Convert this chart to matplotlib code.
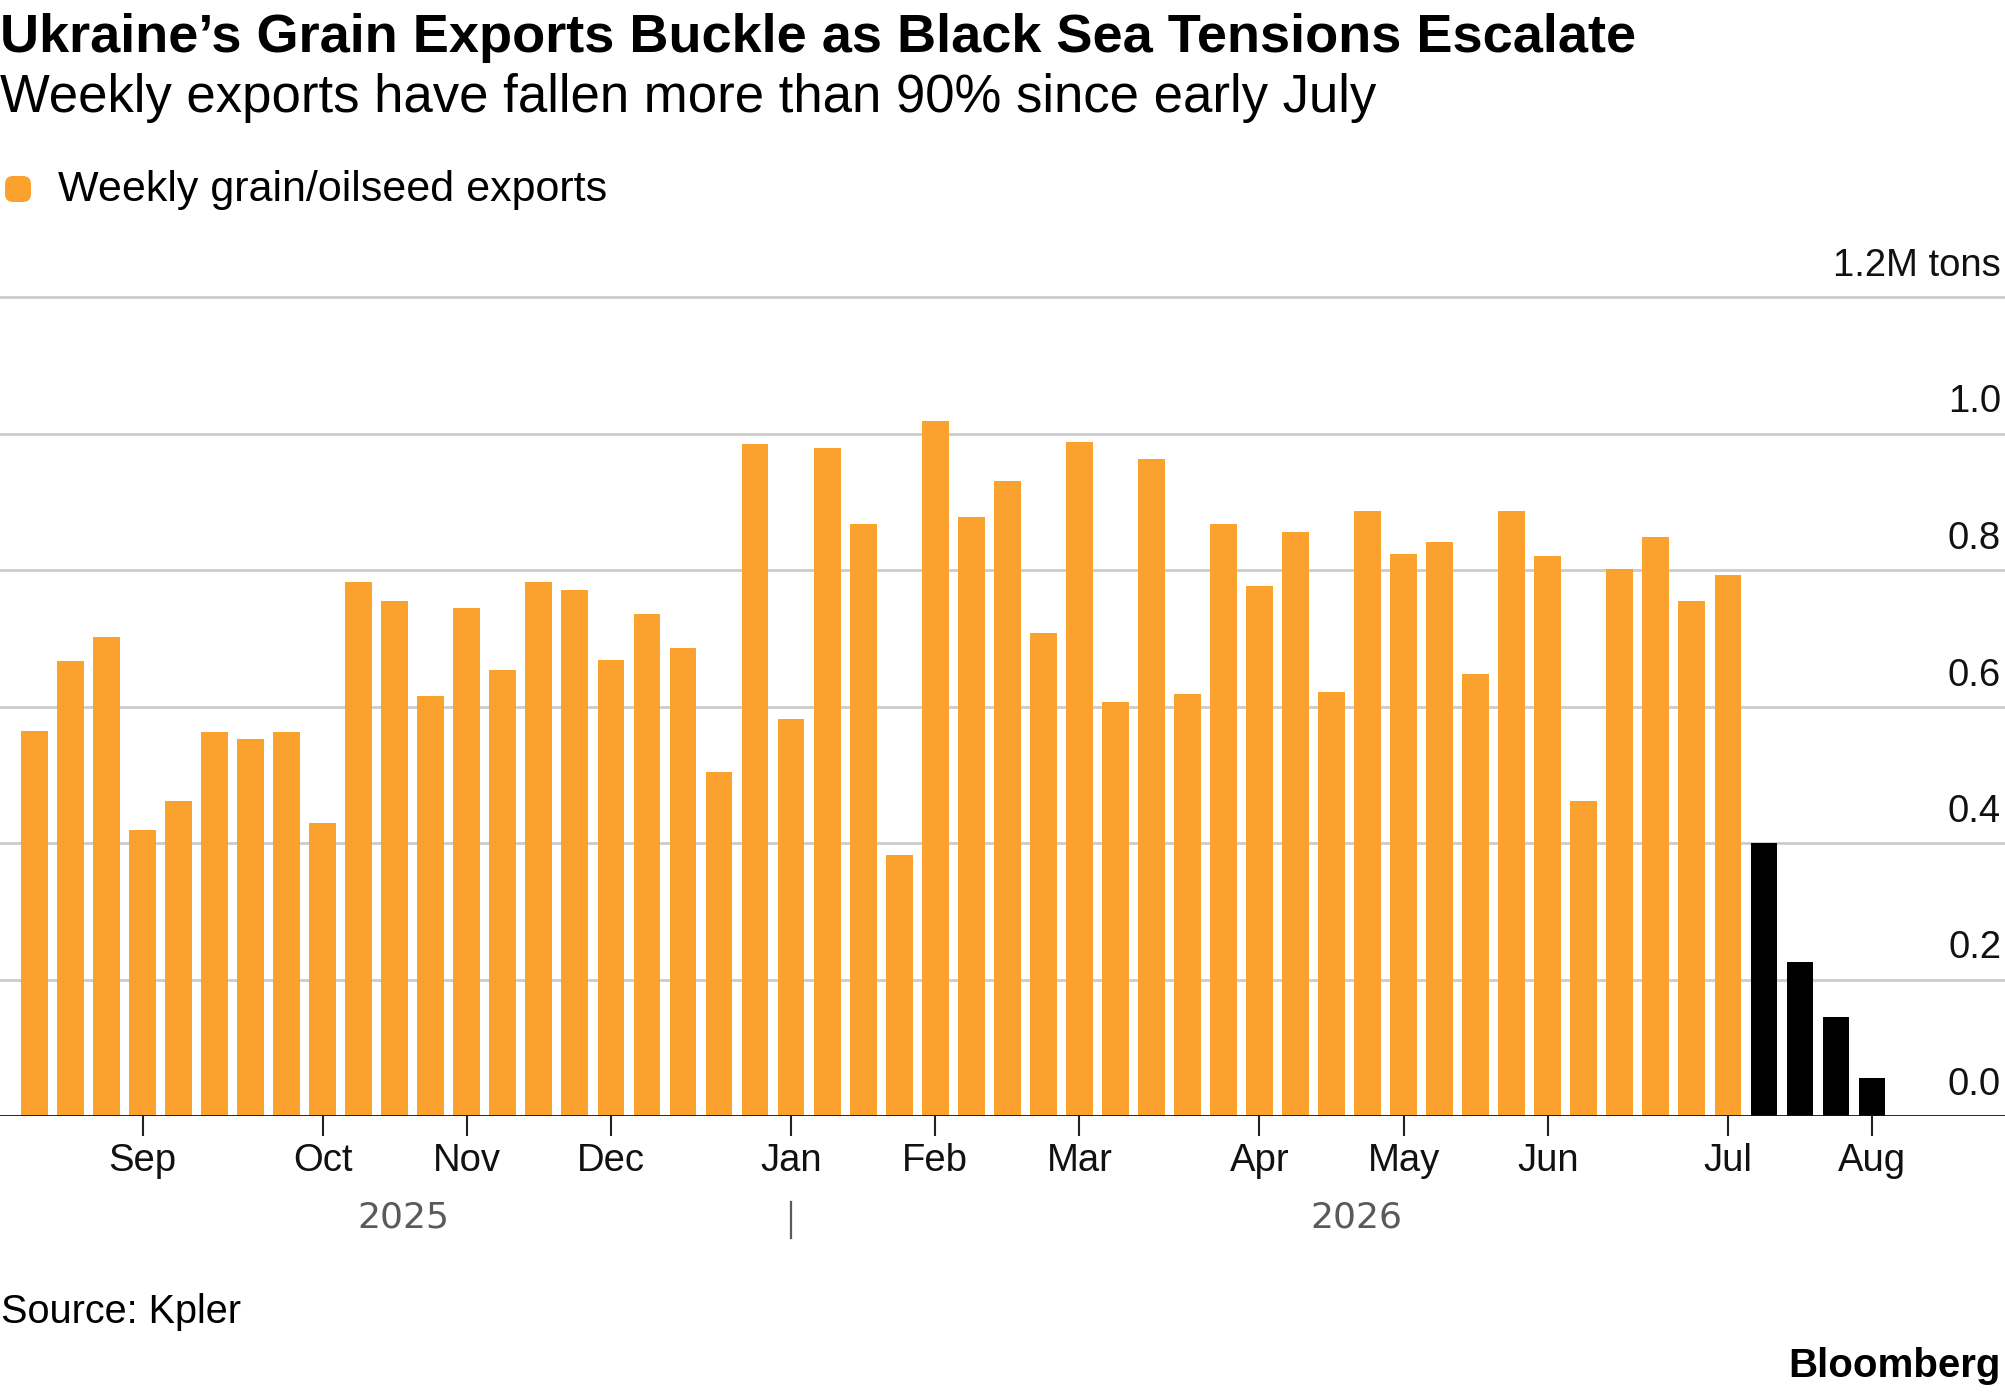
import matplotlib
matplotlib.use("Agg")
import matplotlib.pyplot as plt
import matplotlib.transforms as mtransforms
from matplotlib.patches import FancyBboxPatch
from matplotlib.lines import Line2D
import numpy as np
import pandas as pd

# ---------------- data ----------------
title = "Ukraine’s Grain Exports Buckle as Black Sea Tensions Escalate"
subtitle = "Weekly exports have fallen more than 90% since early July"
legend_label = "Weekly grain/oilseed exports"
unit_suffix = "M tons"
source = "Source: Kpler"
brand = "Bloomberg"

week_start = "2025-08-11"
exports = [0.564, 0.667, 0.702, 0.419, 0.462, 0.563, 0.553, 0.562, 0.430, 0.783,
           0.755, 0.615, 0.745, 0.654, 0.783, 0.771, 0.668, 0.735, 0.686, 0.504,
           0.985, 0.581, 0.979, 0.867, 0.382, 1.018, 0.878, 0.931, 0.707, 0.987,
           0.607, 0.963, 0.618, 0.867, 0.776, 0.855, 0.621, 0.887, 0.823, 0.841,
           0.647, 0.887, 0.820, 0.461, 0.801, 0.849, 0.754, 0.792,
           0.400, 0.225, 0.145, 0.055]
highlight_weeks = 4          # last weeks drawn in black
y_ticks = [0.0, 0.2, 0.4, 0.6, 0.8, 1.0, 1.2]
year_labels = ["2025", "2026"]
year_label_pos = [10.25, 36.7]   # week-index position of year captions

ORANGE = "#FBA12D"
BLACK = "#000000"
GRID = "#CCCCCC"
YEARGRAY = "#5A5A5A"

plt.rcParams["font.family"] = ["Liberation Sans", "DejaVu Sans"]

W, H = 2005, 1392
def fy(px):
    return 1 - px / H
def fx(px):
    return px / W

fig = plt.figure(figsize=(W / 100, H / 100), dpi=100)
fig.patch.set_facecolor("white")

ax = fig.add_axes([0, fy(1116), 1, (1116 - 297) / H])
ax.set_ylim(0, 1.2)
ax.set_xlim(-0.955, 54.69)
for s in ax.spines.values():
    s.set_visible(False)
ax.set_yticks([])

dates = pd.date_range(week_start, periods=len(exports), freq="7D")
x = np.arange(len(exports))
colors = [ORANGE] * (len(exports) - highlight_weeks) + [BLACK] * highlight_weeks

# gridlines
for yt in y_ticks[1:]:
    ax.axhline(yt, color=GRID, lw=2.0, zorder=0, clip_on=False)

ax.bar(x, exports, width=0.744, color=colors, zorder=2, linewidth=0)
ax.axhline(0, color="#111111", lw=2.0, zorder=3)

# month ticks at first week of each month
month_idx = [i for i in range(1, len(dates)) if dates[i].month != dates[i - 1].month]
ax.set_xticks(month_idx)
ax.set_xticklabels([dates[i].strftime("%b") for i in month_idx])
ax.tick_params(axis="x", length=14.4, width=1.5, color="#222222",
               labelsize=27.5, pad=5, labelcolor="#111111", direction="out")

# right-side y labels above gridlines
trans = mtransforms.blended_transform_factory(ax.transAxes, ax.transData)
trans_up = mtransforms.offset_copy(trans, fig=fig, x=0, y=21, units="dots")
for yt in y_ticks:
    lab = f"{yt:.1f}"
    if yt == y_ticks[-1]:
        lab = f"{yt:.1f}{unit_suffix}"
    ax.text(fx(2001), yt, lab, transform=trans_up, ha="right", va="baseline",
            fontsize=27.5, color="#111111")

# year captions
ytrans = mtransforms.blended_transform_factory(ax.transData, fig.transFigure)
for lab, pos in zip(year_labels, year_label_pos):
    ax.text(pos, fy(1228), lab, transform=ytrans, ha="center", va="baseline",
            fontsize=26, color=YEARGRAY, family=["DejaVu Sans"], clip_on=False)
jan_idx = [i for i in month_idx if dates[i].month == 1][0]
fig.add_artist(Line2D([jan_idx, jan_idx], [fy(1202), fy(1238)], transform=ytrans,
                      color=YEARGRAY, lw=1.6))

# header
fig.text(fx(0), fy(52), title, fontsize=39, fontweight="bold", ha="left",
         va="baseline", color="#000000")
fig.text(fx(0), fy(112), subtitle, fontsize=38, ha="left", va="baseline",
         color="#000000")

# legend
sq = FancyBboxPatch((fx(5), fy(202)), fx(26), (202 - 176) / H,
                    boxstyle="round,pad=0,rounding_size=0.004",
                    transform=fig.transFigure, facecolor=ORANGE, edgecolor="none",
                    mutation_aspect=W / H)
fig.add_artist(sq)
fig.text(fx(58), fy(201), legend_label, fontsize=31, ha="left", va="baseline",
         color="#000000")

# footer
fig.text(fx(1), fy(1323), source, fontsize=28.5, ha="left", va="baseline",
         color="#000000")
fig.text(fx(2001), fy(1377), brand, fontsize=29, fontweight="bold", ha="right",
         va="baseline", color="#000000")

fig.savefig("out.png", dpi=100, facecolor="white")
